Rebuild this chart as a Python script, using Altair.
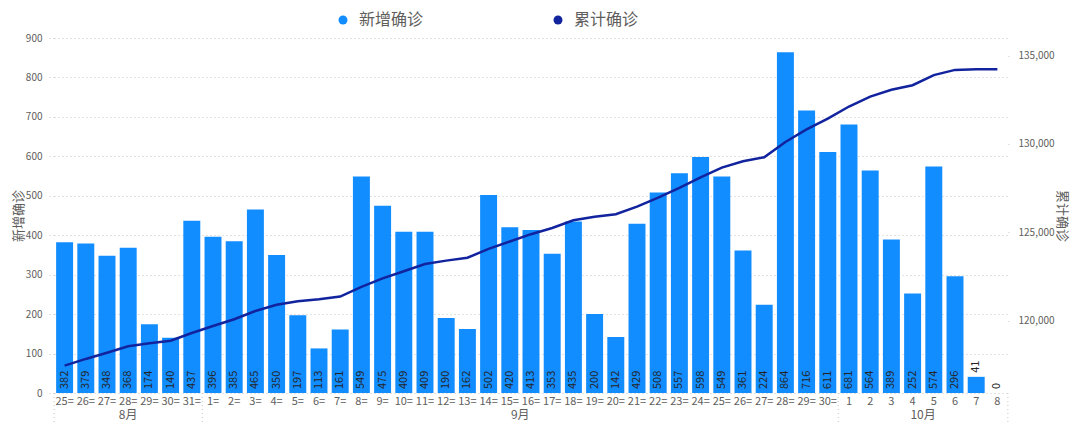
import json
import altair as alt
import pandas as pd

dates = ["8/25", "8/26", "8/27", "8/28", "8/29", "8/30", "8/31",
         "9/1", "9/2", "9/3", "9/4", "9/5", "9/6", "9/7", "9/8", "9/9", "9/10",
         "9/11", "9/12", "9/13", "9/14", "9/15", "9/16", "9/17", "9/18", "9/19", "9/20",
         "9/21", "9/22", "9/23", "9/24", "9/25", "9/26", "9/27", "9/28", "9/29", "9/30",
         "10/1", "10/2", "10/3", "10/4", "10/5", "10/6", "10/7", "10/8"]
day_labels = ["25=", "26=", "27=", "28=", "29=", "30=", "31=",
              "1=", "2=", "3=", "4=", "5=", "6=", "7=", "8=", "9=", "10=",
              "11=", "12=", "13=", "14=", "15=", "16=", "17=", "18=", "19=", "20=",
              "21=", "22=", "23=", "24=", "25=", "26=", "27=", "28=", "29=", "30=",
              "1", "2", "3", "4", "5", "6", "7", "8"]
new_cases = [382, 379, 348, 368, 174, 140, 437,
             396, 385, 465, 350, 197, 113, 161, 549, 475, 409,
             409, 190, 162, 502, 420, 413, 353, 435, 200, 142,
             429, 508, 557, 598, 549, 361, 224, 864, 716, 611,
             681, 564, 389, 252, 574, 296, 41, 0]
cumulative = [117450, 117829, 118177, 118545, 118719, 118859, 119296,
              119692, 120077, 120542, 120892, 121089, 121202, 121363, 121912, 122387, 122796,
              123205, 123395, 123557, 124059, 124479, 124892, 125245, 125680, 125880, 126022,
              126451, 126959, 127516, 128114, 128663, 129024, 129248, 130112, 130828, 131439,
              132120, 132684, 133073, 133325, 133899, 134195, 134236, 134236]
series_names = ["新增确诊", "累计确诊"]
series_colors = ["#118DFF", "#12239E"]
months = ["8月", "9月", "10月"]
month_anchor = ["8/28", "9/15", "10/4"]
group_ends = ["8/31", "9/30", "10/8"]

W, H = 954, 355
GRAY = "#605E5C"
GRID = "#C8C6C4"

df = pd.DataFrame({"date": dates, "v": new_cases, "cum": cumulative})

label_expr = f"{json.dumps(day_labels, ensure_ascii=False)}[indexof({json.dumps(dates)}, datum.value)]"
xscale = alt.Scale(domain=dates, paddingInner=0.2, paddingOuter=0.1)
xaxis = alt.Axis(title=None, labelExpr=label_expr, labelAngle=0, labelColor=GRAY,
                 labelFontSize=11, ticks=False, domain=False, grid=False, labelPadding=2)


def xenc(band=0.5):
    return alt.X("date:N", scale=xscale, axis=xaxis, bandPosition=band)


left_scale = alt.Scale(domain=[0, 900], nice=False)
left_axis = alt.Axis(orient="left", values=list(range(0, 1000, 100)), title="新增确诊",
                     titleColor=GRAY, titleFontSize=13, titleFontWeight="normal",
                     labelColor=GRAY, labelFontSize=10, domain=False, tickSize=7,
                     tickDash=[1, 3], tickColor=GRID, grid=True, gridDash=[1, 3],
                     gridColor=GRID, labelPadding=5, titlePadding=0)
right_axis = alt.Axis(orient="right", values=[120000, 125000, 130000, 135000],
                      labelExpr="format(datum.value, ',')",
                      title="累计确诊", titleColor=GRAY, titleFontSize=13,
                      titleFontWeight="normal", labelColor=GRAY, labelFontSize=10,
                      domain=False, tickSize=7, tickDash=[1, 6], tickColor=GRID,
                      grid=False, labelPadding=3, titlePadding=0)

base = alt.Chart(df)

bars = base.transform_calculate(series="'新增确诊'").mark_bar().encode(
    x=xenc(),
    y=alt.Y("v:Q", scale=left_scale, axis=left_axis),
    color=alt.Color("series:N", scale=alt.Scale(domain=series_names, range=series_colors),
                    legend=alt.Legend(title=None, orient="none", direction="horizontal",
                                      legendX=281, legendY=-26, symbolType="circle",
                                      symbolSize=80, labelFontSize=16, labelColor=GRAY,
                                      labelOffset=8, columnPadding=126)),
)

line = base.mark_line(color="#12239E", strokeWidth=2.5).encode(
    x=xenc(),
    y=alt.Y("cum:Q", scale=alt.Scale(domain=[115900, 136000], nice=False, zero=False),
            axis=right_axis),
)

bar_labels = base.transform_calculate(lab_y="datum.v < 60 ? datum.v : 0").mark_text(
    angle=270, align="left", baseline="middle", dx=4, fontSize=11, color="#252423"
).encode(
    x=xenc(),
    y=alt.Y("lab_y:Q", scale=left_scale, axis=None),
    text=alt.Text("v:Q"),
)

sep_df = pd.DataFrame({"date": group_ends})
seps = alt.Chart(sep_df).mark_rule(color=GRID, strokeDash=[1, 3], xOffset=2).encode(
    x=xenc(1), y=alt.value(H), y2=alt.value(H + 40))
sep_start = alt.Chart(pd.DataFrame({"date": dates[:1]})).mark_rule(
    color=GRID, strokeDash=[1, 3], xOffset=-2).encode(
    x=xenc(0), y=alt.value(H), y2=alt.value(H + 40))

m_df = pd.DataFrame({"date": month_anchor, "m": months})
month_a = alt.Chart(m_df).transform_filter("datum.m == '8月'").mark_text(
    fontSize=12, color=GRAY, baseline="middle").encode(
    x=xenc(0.5), y=alt.value(H + 22), text="m:N")
month_b = alt.Chart(m_df).transform_filter("datum.m != '8月'").mark_text(
    fontSize=12, color=GRAY, baseline="middle", xOffset=2).encode(
    x=xenc(1), y=alt.value(H + 22), text="m:N")

chart = alt.layer(bars, line, bar_labels, seps, sep_start, month_a, month_b).resolve_scale(
    y="independent"
).properties(
    width=W, height=H,
    autosize=alt.AutoSizeParams(type="none"),
    padding={"left": 46, "top": 30, "right": 64, "bottom": 29},
).configure(font="Noto Sans CJK SC").configure_view(stroke=None)

chart.save("out.html", embed_options={"renderer": "svg", "actions": False})
